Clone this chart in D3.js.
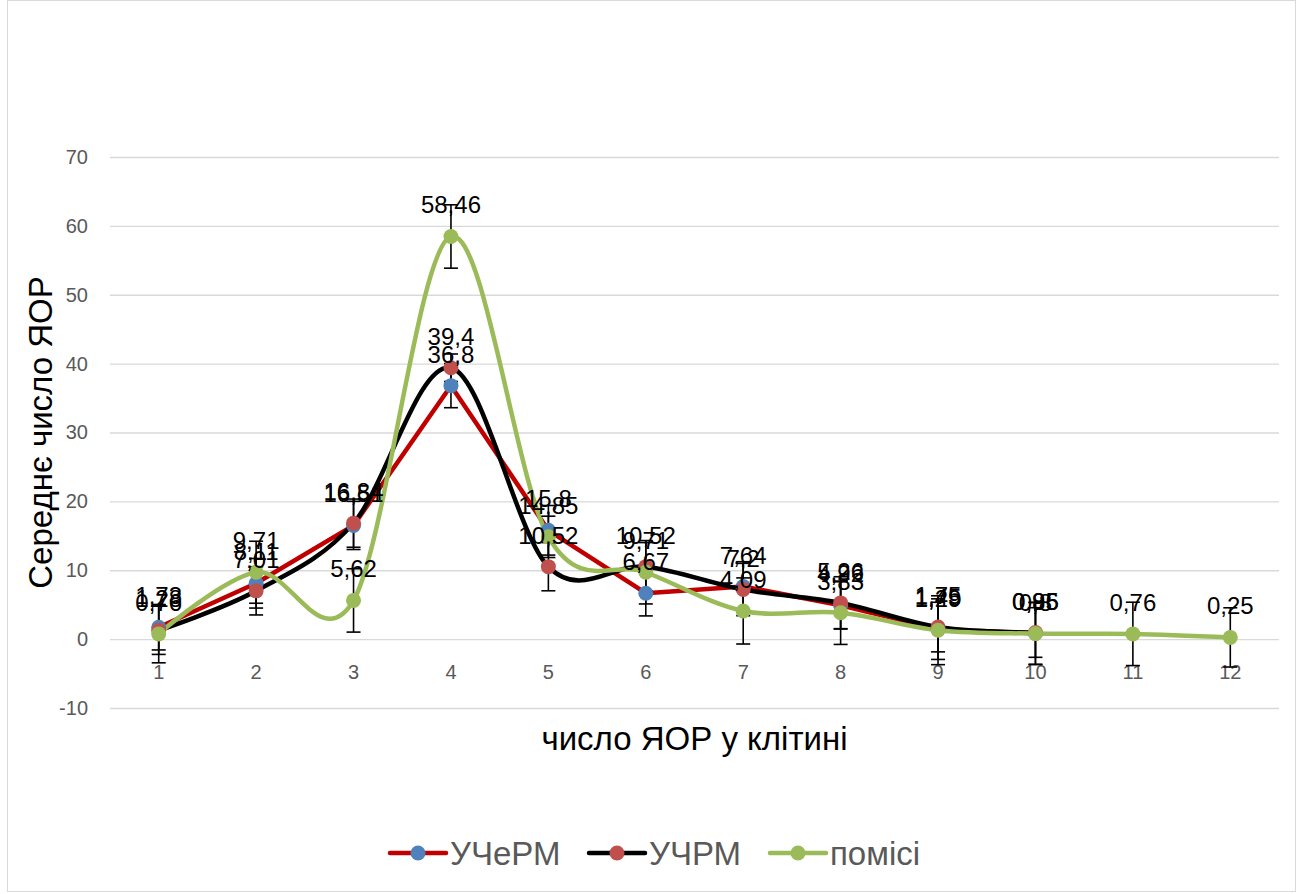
<!DOCTYPE html>
<html>
<head>
<meta charset="utf-8">
<script src="https://cdn.jsdelivr.net/npm/d3@7"></script>
<style>
  html, body { margin: 0; padding: 0; background: #fff; }
  svg { display: block; font-family: "Liberation Sans", Arial, sans-serif; }
</style>
</head>
<body>
<svg id="chart" width="1302" height="894"></svg>
<script>
// Categories: number of nucleolus organizer regions per cell
const categories = [1, 2, 3, 4, 5, 6, 7, 8, 9, 10, 11, 12];

// Mean counts per series
const seriesNames = ["УЧеРМ", "УЧРМ", "помісі"];
const valuesUCheRM = [1.73, 8.11, 16.51, 36.8, 15.8, 6.67, 7.64, 4.92, 1.45, 0.85];
const valuesUChRM  = [1.28, 7.01, 16.84, 39.4, 10.52, 10.52, 7.2, 5.26, 1.75, 0.96];
const valuesPomisi = [0.76, 9.71, 5.62, 58.46, 14.85, 9.71, 4.09, 3.83, 1.29, 0.8, 0.76, 0.25];

// Error bar half-widths (±)
const errUCheRM = [3.3, 3.6, 3.5, 3.2, 3.6, 3.3, 3.6, 3.4, 4.4, 4.5];
const errUChRM  = [3.5, 3.5, 3.5, 2.0, 3.5, 3.5, 3.8, 3.8, 3.6, 3.6];
const errPomisi = [4.2, 4.5, 4.6, 4.6, 3.0, 4.6, 4.8, 4.6, 5.0, 4.5, 4.6, 4.3];

// Axis ticks and titles
const yTicks = [-10, 0, 10, 20, 30, 40, 50, 60, 70];
const xTitle = "число ЯОР у клітині";
const yTitle = "Середнє число ЯОР";

const styles = [
  { line: "#C00000", marker: "#4F81BD", curve: d3.curveLinear },
  { line: "#000000", marker: "#C0504D", curve: d3.curveCatmullRom.alpha(0) },
  { line: "#9BBB59", marker: "#9BBB59", curve: d3.curveCatmullRom.alpha(0) }
];

const series = [
  { name: seriesNames[0], values: valuesUCheRM, errs: errUCheRM },
  { name: seriesNames[1], values: valuesUChRM,  errs: errUChRM },
  { name: seriesNames[2], values: valuesPomisi, errs: errPomisi }
].map((s, i) => ({
  ...s,
  style: styles[i],
  points: s.values.map((v, j) => ({ cat: categories[j], v, e: s.errs[j] }))
}));

const svg = d3.select("#chart");
const plot = { left: 110, right: 1279, top: 157, bottom: 708 };

// Chart border
svg.append("rect")
  .attr("x", 7.5).attr("y", 0.5)
  .attr("width", 1288).attr("height", 891)
  .attr("fill", "#fff").attr("stroke", "#d9d9d9").attr("stroke-width", 1);

const x = d3.scaleBand().domain(categories).range([plot.left, plot.right]);
const cx = c => x(c) + x.bandwidth() / 2;
const y = d3.scaleLinear().domain([-10, 70]).range([plot.bottom, plot.top]);

// Horizontal gridlines + value labels
const yAxis = d3.axisLeft(y)
  .tickValues(yTicks)
  .tickSize(-(plot.right - plot.left))
  .tickPadding(22)
  .tickFormat(d => String(d));
const gy = svg.append("g")
  .attr("transform", `translate(${plot.left},0)`)
  .call(yAxis);
gy.select(".domain").remove();
gy.selectAll(".tick line").attr("stroke", "#d9d9d9").attr("stroke-width", 1.3);
gy.selectAll(".tick text")
  .attr("fill", "#595959")
  .style("font-size", "20px")
  .style("font-family", "Liberation Sans, Arial, sans-serif");

// Category labels under the zero line
const xAxis = d3.axisBottom(x).tickSize(0).tickPadding(26);
const gx = svg.append("g")
  .attr("transform", `translate(0,${y(0)})`)
  .call(xAxis);
gx.select(".domain").remove();
gx.selectAll(".tick text")
  .attr("fill", "#595959")
  .style("font-size", "20px")
  .style("font-family", "Liberation Sans, Arial, sans-serif");

// Lines
series.forEach(s => {
  const line = d3.line()
    .x(d => cx(d.cat))
    .y(d => y(d.v))
    .curve(s.style.curve);
  svg.append("path")
    .datum(s.points)
    .attr("fill", "none")
    .attr("stroke", s.style.line)
    .attr("stroke-width", 4.5)
    .attr("stroke-linejoin", "round")
    .attr("stroke-linecap", "round")
    .attr("d", line);
});

// Error bars
const capW = 7;
series.forEach(s => {
  const g = svg.append("g").attr("stroke", "#000").attr("stroke-width", 1.6);
  s.points.forEach(d => {
    const px = cx(d.cat);
    const y1 = y(d.v + d.e), y2 = y(d.v - d.e);
    g.append("line").attr("x1", px).attr("x2", px).attr("y1", y1).attr("y2", y2);
    g.append("line").attr("x1", px - capW).attr("x2", px + capW).attr("y1", y1).attr("y2", y1);
    g.append("line").attr("x1", px - capW).attr("x2", px + capW).attr("y1", y2).attr("y2", y2);
  });
});

// Markers
series.forEach(s => {
  svg.append("g").selectAll("circle")
    .data(s.points)
    .join("circle")
    .attr("cx", d => cx(d.cat))
    .attr("cy", d => y(d.v))
    .attr("r", 7.5)
    .attr("fill", s.style.marker);
});

// Data labels
const fmt = v => String(v).replace(".", ",");
series.forEach(s => {
  svg.append("g").selectAll("text")
    .data(s.points)
    .join("text")
    .attr("x", d => cx(d.cat))
    .attr("y", d => y(d.v) - 23)
    .attr("text-anchor", "middle")
    .attr("fill", "#000")
    .style("font-size", "24px")
    .text(d => fmt(d.v));
});

// Axis titles
svg.append("text")
  .attr("x", (plot.left + plot.right) / 2)
  .attr("y", 750)
  .attr("text-anchor", "middle")
  .attr("fill", "#000")
  .style("font-size", "33px")
  .text(xTitle);

svg.append("text")
  .attr("transform", `translate(52,${(plot.top + plot.bottom) / 2}) rotate(-90)`)
  .attr("text-anchor", "middle")
  .attr("fill", "#000")
  .style("font-size", "33px")
  .text(yTitle);

// Legend
const legendX = [390, 589, 770];
const legend = svg.append("g");
series.forEach((s, i) => {
  const g = legend.append("g").attr("transform", `translate(${legendX[i]},853)`);
  g.append("line")
    .attr("x1", 0).attr("x2", 56).attr("y1", 0).attr("y2", 0)
    .attr("stroke", s.style.line).attr("stroke-width", 4.5)
    .attr("stroke-linecap", "round");
  g.append("circle").attr("cx", 28).attr("cy", 0).attr("r", 7.5).attr("fill", s.style.marker);
  g.append("text")
    .attr("x", 60).attr("y", 12)
    .attr("fill", "#595959")
    .style("font-size", "33px")
    .text(s.name);
});
</script>
</body>
</html>
